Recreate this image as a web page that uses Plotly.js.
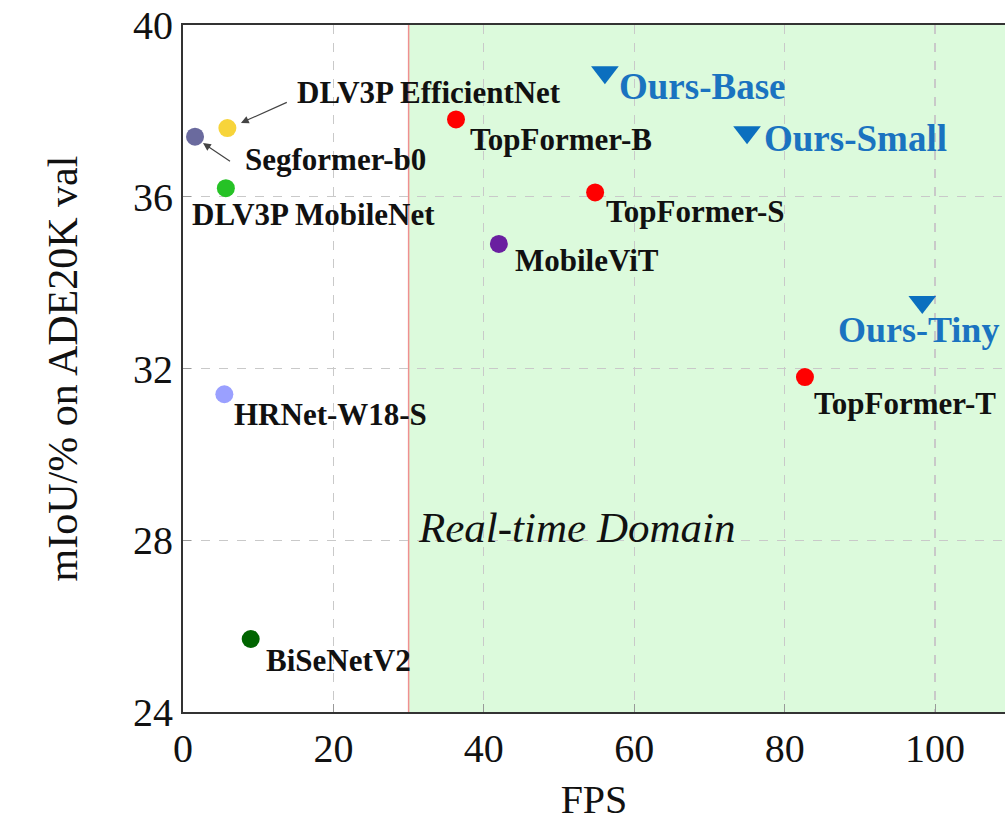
<!DOCTYPE html>
<html>
<head>
<meta charset="utf-8">
<script src="https://cdn.plot.ly/plotly-3.0.1.min.js"></script>
<style>html,body{margin:0;padding:0;background:#fff;}#chart{width:1005px;height:822px;}</style>
</head>
<body>
<div id="chart"></div>
<script>
// ---- data ----
const methods = ["Segformer-b0","DLV3P EfficientNet","DLV3P MobileNet","TopFormer-B","TopFormer-S","MobileViT","TopFormer-T","HRNet-W18-S","BiSeNetV2"];
const methodFPS = [1.6, 5.9, 5.7, 36.3, 54.8, 42.0, 82.7, 5.5, 9.0];
const methodMIoU = [37.4, 37.6, 36.2, 37.8, 36.1, 34.9, 31.8, 31.4, 25.7];
const ours = ["Ours-Base","Ours-Small","Ours-Tiny"];
const oursFPS = [56.1, 75.0, 98.3];
const oursMIoU = [38.9, 37.5, 33.55];
const xTicks = [0, 20, 40, 60, 80, 100];
const yTicks = [24, 28, 32, 36, 40];
const realTimeFPS = 30;

// ---- styles ----
const methodColors = ["#6a6a9e","#f7d43a","#26c226","#ff0000","#ff0000","#6a1fa0","#ff0000","#9aa0ff","#006400"];
const oursColor = "#0b6fbf";
const oursTextColor = "#1a73c0";
// label offsets (px): [xshift, yshift]
const methodOffsets = [[48,-23],[68,36],[-36,-26],[12,-20],[9,-19],[14,-17],[7,-26],[8,-20],[13,-21]];
const oursOffsets = [[12,-14],[15,-6],[-86,-28]];
const oursFontSizes = [37, 37, 36];

const serif = "Liberation Serif, Times New Roman, serif";
const xMax = 109.3;

const traces = [
  {type:"scatter", mode:"markers", x:methodFPS, y:methodMIoU, text:methods,
   marker:{size:18, color:methodColors}, hoverinfo:"text", showlegend:false, cliponaxis:false},
  {type:"scatter", mode:"markers", x:oursFPS, y:oursMIoU, text:ours,
   marker:{size:24, color:oursColor, symbol:"triangle-down"}, hoverinfo:"text", showlegend:false, cliponaxis:false}
];

const annotations = [];
methods.forEach((m,i)=>{
  annotations.push({x:methodFPS[i], y:methodMIoU[i], xref:"x", yref:"y", text:"<b>"+m+"</b>",
    showarrow:false, xanchor:"left", yanchor:"middle", xshift:methodOffsets[i][0], yshift:methodOffsets[i][1],
    font:{family:serif, size:31, color:"#111"}});
});
ours.forEach((m,i)=>{
  annotations.push({x:oursFPS[i], y:oursMIoU[i], xref:"x", yref:"y", text:"<b>"+m+"</b>",
    showarrow:false, xanchor:"left", yanchor:"middle", xshift:oursOffsets[i][0], yshift:oursOffsets[i][1],
    font:{family:serif, size:oursFontSizes[i], color:oursTextColor}});
});
// arrows
annotations.push({x:7.7, y:37.72, ax:14.2, ay:38.23, xref:"x", yref:"y", axref:"x", ayref:"y", text:" ",
  showarrow:true, arrowhead:2, arrowsize:1.3, arrowwidth:1.2, arrowcolor:"#444"});
annotations.push({x:2.66, y:37.25, ax:6.65, ay:36.78, xref:"x", yref:"y", axref:"x", ayref:"y", text:" ",
  showarrow:true, arrowhead:2, arrowsize:1.3, arrowwidth:1.2, arrowcolor:"#444"});
// region label
annotations.push({x:realTimeFPS, y:28.3, xref:"x", yref:"y", xanchor:"left", yanchor:"middle", xshift:7,
  text:"<i>Real-time Domain</i>", showarrow:false, font:{family:serif, size:43, color:"#111"}});

const layout = {
  width:1005, height:822,
  margin:{l:183, r:0, t:25, b:110},
  paper_bgcolor:"#fff", plot_bgcolor:"#fff",
  font:{family:serif, color:"#111"},
  xaxis:{range:[0,xMax], tickvals:xTicks, ticktext:xTicks.map(String), ticks:"inside", ticklen:8, tickcolor:"#999",
    showgrid:true, gridcolor:"#c9c9c9", griddash:"dash", gridwidth:1.2, zeroline:false,
    showline:true, linecolor:"#333", linewidth:2, mirror:true,
    tickfont:{family:serif, size:40, color:"#111"},
    title:{text:"FPS", font:{family:serif, size:40, color:"#111"}, standoff:26}},
  yaxis:{range:[24,40], tickvals:yTicks, ticktext:yTicks.map(String), ticks:"inside", ticklen:8, tickcolor:"#999",
    showgrid:true, gridcolor:"#c9c9c9", griddash:"dash", gridwidth:1.2, zeroline:false,
    showline:true, linecolor:"#333", linewidth:2, mirror:false,
    tickfont:{family:serif, size:40, color:"#111"},
    title:{text:"mIoU/% on ADE20K val", font:{family:serif, size:42, color:"#111"}, standoff:42}},
  shapes:[
    {type:"rect", xref:"x", yref:"y", x0:realTimeFPS, x1:xMax, y0:24, y1:40, fillcolor:"#dcfadc", line:{width:0}, layer:"below"},
    {type:"line", xref:"x", yref:"y", x0:realTimeFPS, x1:realTimeFPS, y0:24, y1:40, line:{color:"#f09090", width:1.5}, layer:"below"}
  ],
  annotations:annotations,
  showlegend:false
};

Plotly.newPlot("chart", traces, layout, {staticPlot:true});
</script>
</body>
</html>
